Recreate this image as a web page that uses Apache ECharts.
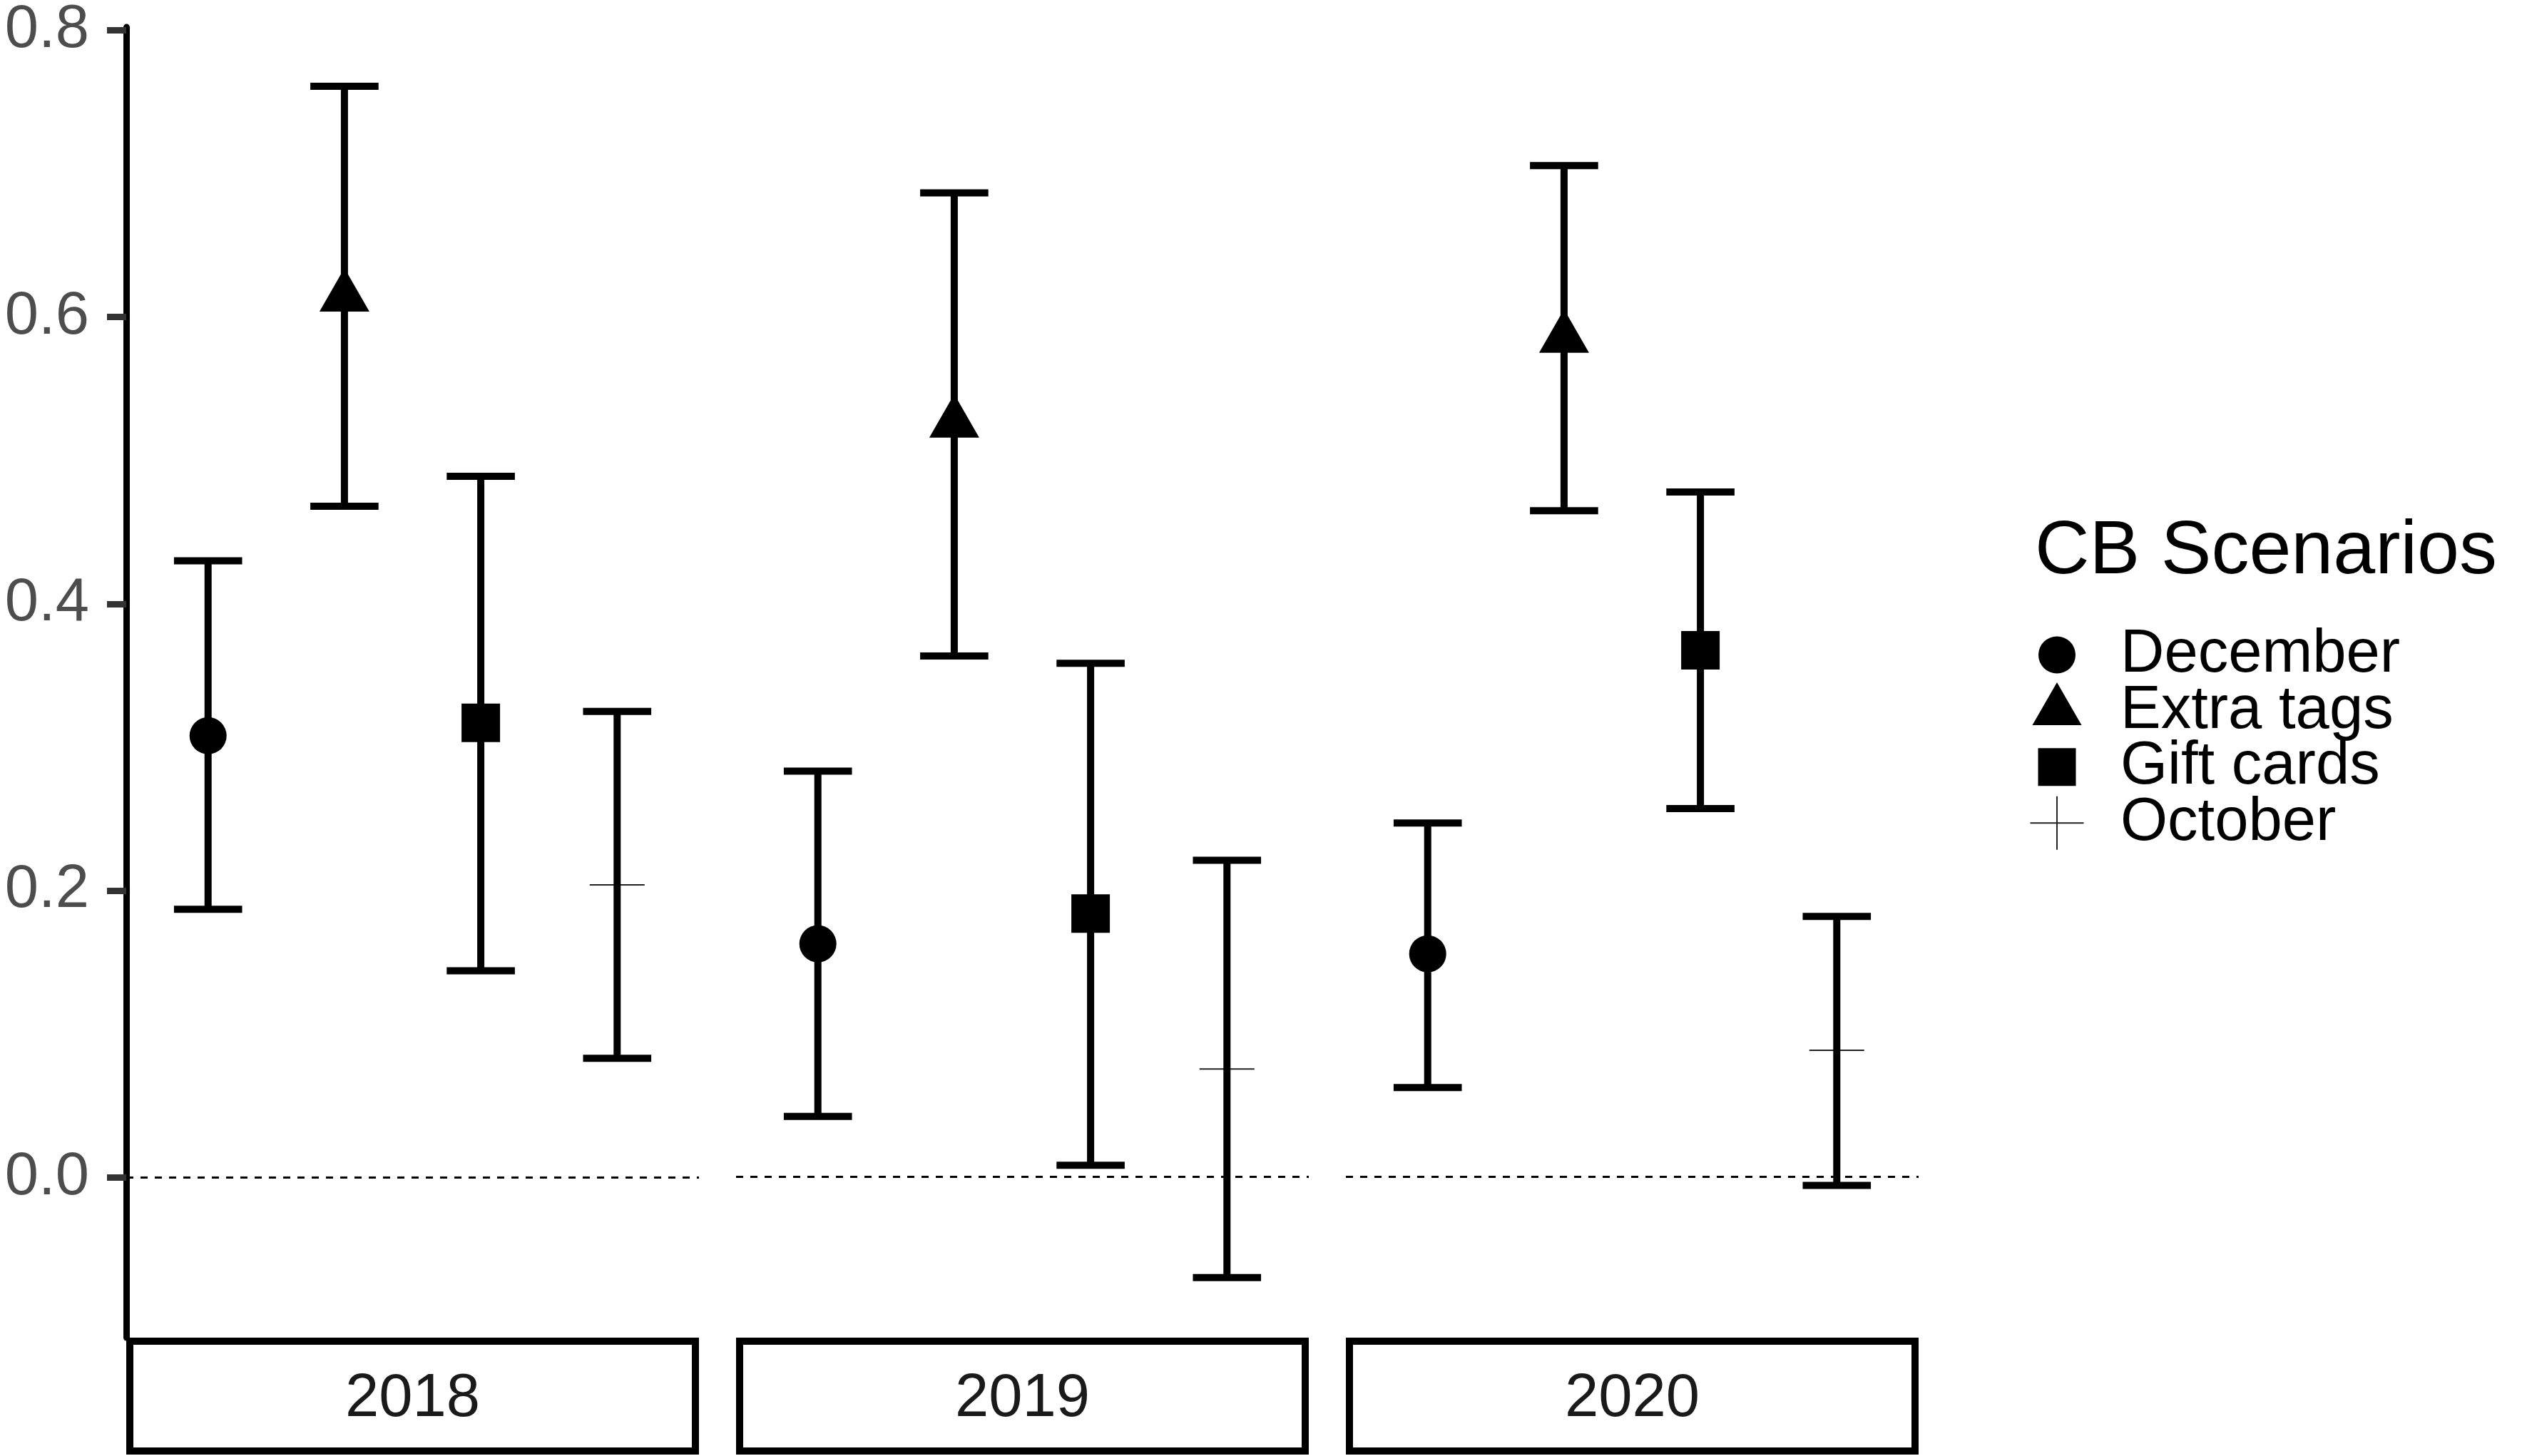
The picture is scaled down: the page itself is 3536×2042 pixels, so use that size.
<!DOCTYPE html>
<html>
<head>
<meta charset="utf-8">
<script src="https://cdn.jsdelivr.net/npm/echarts@6/dist/echarts.min.js"></script>
<style>
  html, body { margin: 0; padding: 0; background: #fff; }
  #chart { width: 3536px; height: 2042px; }
</style>
</head>
<body>
<div id="chart"></div>
<script>
var years = ['2018', '2019', '2020'];
var scenarios = ['December', 'Extra tags', 'Gift cards', 'October'];

// point estimate and interval bounds, in scenario order
var est2018 = [0.308, 0.614, 0.317, 0.204];
var lo2018 = [0.187, 0.468, 0.144, 0.083];
var hi2018 = [0.430, 0.761, 0.489, 0.325];

var est2019 = [0.162, 0.524, 0.183, 0.075];
var lo2019 = [0.042, 0.362, 0.008, -0.070];
var hi2019 = [0.282, 0.684, 0.357, 0.220];

var est2020 = [0.155, 0.583, 0.366, 0.088];
var lo2020 = [0.062, 0.463, 0.256, -0.006];
var hi2020 = [0.246, 0.703, 0.476, 0.181];

var yTicks = [0, 0.2, 0.4, 0.6, 0.8];

var estimates = [est2018, est2019, est2020];
var lows = [lo2018, lo2019, lo2020];
var highs = [hi2018, hi2019, hi2020];

var FONT = '"Liberation Sans", Arial, sans-serif';
var PANEL_LEFT = [177, 1032, 1887];
var PANEL_W = 803;
var PANEL_TOP = 32;
var PANEL_H = 1844;
var CAP_WIDTH = 0.5;

var crossPath = 'path://M0,37.5h77v2h-77z M37.5,0h2v77h-2z';
var markers = {
  'December': { symbol: 'circle', size: 52, offset: [0, 0] },
  // triangle is centred on its centroid, like R's pch 17
  'Extra tags': { symbol: 'triangle', size: [70, 61], offset: [0, -10] },
  'Gift cards': { symbol: 'rect', size: 54, offset: [0, 0] },
  'October': { symbol: crossPath, size: 77, offset: [0, 0] }
};

// legend keys, drawn in a 124x80 box so that every icon keeps its own size
var legendIcons = {
  'December': 'path://M0,0M124,80M14,40a26,26 0 1,0 52,0a26,26 0 1,0 -52,0z',
  'Extra tags': 'path://M0,0M124,80M40,0L74.5,60L5.5,60Z',
  'Gift cards': 'path://M0,0M124,80M13.5,13.5h53v53h-53z',
  'October': 'path://M0,0M124,80M2.5,39h75v2h-75z M39,2.5h2v75h-2z'
};

function renderErrorBar(params, api) {
  var x = api.value(0);
  var top = api.coord([x, api.value(2)]);
  var bottom = api.coord([x, api.value(1)]);
  var half = api.size([CAP_WIDTH, 0])[0] / 2;
  var style = { stroke: '#000', lineWidth: 10, lineCap: 'butt' };
  return {
    type: 'group',
    children: [
      { type: 'line', shape: { x1: top[0] - half, y1: top[1], x2: top[0] + half, y2: top[1] }, style: style },
      { type: 'line', shape: { x1: top[0], y1: top[1], x2: bottom[0], y2: bottom[1] }, style: style },
      { type: 'line', shape: { x1: bottom[0] - half, y1: bottom[1], x2: bottom[0] + half, y2: bottom[1] }, style: style }
    ]
  };
}

var grids = [], xAxes = [], yAxes = [], series = [], strips = [];

years.forEach(function (year, k) {
  grids.push({ left: PANEL_LEFT[k], top: PANEL_TOP, width: PANEL_W, height: PANEL_H });
  xAxes.push({ gridIndex: k, type: 'value', min: 0.4, max: 4.6, show: false });
  yAxes.push({
    gridIndex: k,
    type: 'value',
    min: -0.1118,
    max: 0.8022,
    show: k === 0,
    axisLine: { show: true, lineStyle: { color: '#000', width: 9 } },
    axisTick: { show: true, length: 27, customValues: yTicks, lineStyle: { color: '#333', width: 9 } },
    axisLabel: {
      show: true,
      customValues: yTicks,
      margin: 52,
      fontSize: 85,
      fontFamily: FONT,
      color: '#4D4D4D',
      formatter: function (v) { return v.toFixed(1); }
    },
    splitLine: { show: false }
  });

  series.push({
    type: 'custom',
    name: 'bars' + year,
    xAxisIndex: k,
    yAxisIndex: k,
    z: 10,
    silent: true,
    renderItem: renderErrorBar,
    encode: { x: 0, y: [1, 2] },
    data: scenarios.map(function (s, i) { return [i + 1, lows[k][i], highs[k][i]]; }),
    markLine: {
      silent: true,
      z: 1,
      symbol: 'none',
      label: { show: false },
      lineStyle: { color: '#000', width: 3, type: [10, 10] },
      data: [{ yAxis: 0 }]
    }
  });

  scenarios.forEach(function (s, i) {
    var m = markers[s];
    series.push({
      type: 'scatter',
      name: s,
      xAxisIndex: k,
      yAxisIndex: k,
      z: 5,
      silent: true,
      symbol: m.symbol,
      symbolSize: m.size,
      symbolOffset: m.offset,
      itemStyle: { color: s === 'October' ? '#222' : '#000', opacity: 1 },
      data: [[i + 1, estimates[k][i]]]
    });
  });

  strips.push({
    type: 'group',
    children: [
      {
        type: 'rect',
        shape: { x: PANEL_LEFT[k] + 5, y: 1881, width: PANEL_W - 10, height: 154 },
        style: { fill: '#fff', stroke: '#000', lineWidth: 10 }
      },
      {
        type: 'text',
        style: {
          text: year,
          x: PANEL_LEFT[k] + PANEL_W / 2,
          y: 1963,
          align: 'center',
          verticalAlign: 'middle',
          fontSize: 85,
          fontFamily: FONT,
          fill: '#1A1A1A'
        }
      }
    ]
  });
});

var chart = echarts.init(document.getElementById('chart'));
chart.setOption({
  animation: false,
  backgroundColor: '#fff',
  title: {
    text: 'CB Scenarios',
    left: 2853,
    top: 722,
    padding: 0,
    textStyle: { fontSize: 106, fontWeight: 'normal', fontFamily: FONT, color: '#000' }
  },
  legend: {
    orient: 'vertical',
    left: 2844,
    top: 876,
    padding: 0,
    itemWidth: 124,
    itemHeight: 80,
    itemGap: -6.4,
    selectedMode: false,
    textStyle: { fontSize: 85, fontFamily: FONT, color: '#000', lineHeight: 79 },
    data: scenarios.map(function (s) { return { name: s, icon: legendIcons[s] }; })
  },
  grid: grids,
  xAxis: xAxes,
  yAxis: yAxes,
  series: series,
  graphic: strips
});
</script>
</body>
</html>
